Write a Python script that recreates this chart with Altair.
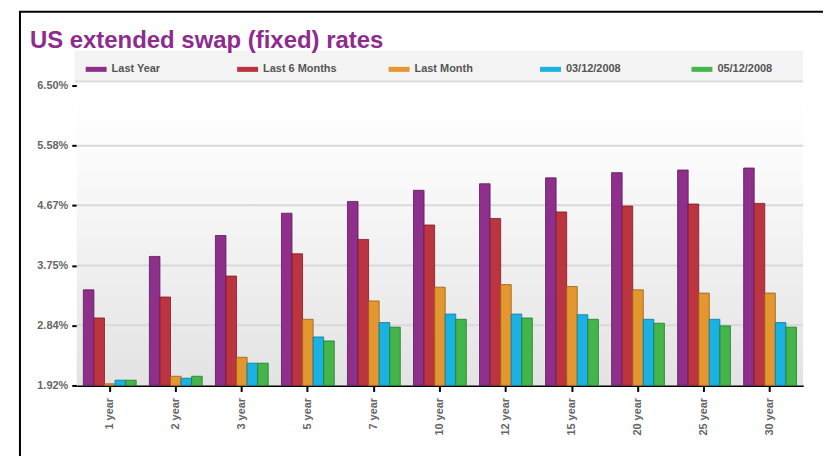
import altair as alt
import pandas as pd

tenors = ["1 year", "2 year", "3 year", "5 year", "7 year", "10 year",
          "12 year", "15 year", "20 year", "25 year", "30 year"]
series = ["Last Year", "Last 6 Months", "Last Month", "03/12/2008", "05/12/2008"]
last_year = [3.38, 3.89, 4.21, 4.55, 4.73, 4.90, 5.00, 5.09, 5.17, 5.21, 5.24]
last_6m = [2.95, 3.27, 3.59, 3.93, 4.15, 4.37, 4.47, 4.57, 4.66, 4.69, 4.70]
last_month = [1.945, 2.06, 2.35, 2.93, 3.21, 3.42, 3.46, 3.43, 3.38, 3.33, 3.33]
d0312 = [2.00, 2.03, 2.26, 2.66, 2.88, 3.01, 3.01, 3.00, 2.93, 2.93, 2.88]
d0512 = [2.00, 2.06, 2.26, 2.60, 2.81, 2.93, 2.95, 2.93, 2.87, 2.83, 2.81]
y_ticks = [1.92, 2.84, 3.75, 4.67, 5.58, 6.50]

colors = ["#8E2F8C", "#BC3440", "#E4962F", "#19B2E2", "#44B54B"]
strokes = ["#5A1A58", "#7A1C24", "#9A6016", "#0C7799", "#257A2A"]

rows = []
for name, vals in zip(series, [last_year, last_6m, last_month, d0312, d0512]):
    for t, v in zip(tenors, vals):
        rows.append({"tenor": t, "series": name, "rate": v})
df = pd.DataFrame(rows)

# tick positions: majors plus 3 minor ticks per interval
tick_vals = []
for i in range(len(y_ticks) - 1):
    a, b = y_ticks[i], y_ticks[i + 1]
    for j in range(4):
        tick_vals.append(round(a + (b - a) * j / 4, 4))
tick_vals.append(y_ticks[-1])
major_str = ",".join("'%.2f'" % v for v in y_ticks)

W, H = 729, 301
FONT = "Liberation Sans"
one = pd.DataFrame({"a": [0]})

yscale = alt.Scale(domain=[y_ticks[0], y_ticks[-1]], nice=False, zero=False)

bg = alt.Chart(one).mark_rect(
    color=alt.Gradient(gradient="linear", x1=0, x2=0, y1=0, y2=1,
                       stops=[alt.GradientStop(color="#ffffff", offset=0),
                              alt.GradientStop(color="#fbfbfb", offset=0.25),
                              alt.GradientStop(color="#e3e3e3", offset=1)])
).encode(x=alt.value(0), x2=alt.value(W), y=alt.value(0), y2=alt.value(H))

band = alt.Chart(one).mark_rect(color="#f3f3f3").encode(
    x=alt.value(-2), x2=alt.value(W), y=alt.value(-35), y2=alt.value(-4))

band_line = alt.Chart(one).mark_rule(
    color="#dcdcdc", strokeWidth=2
).encode(x=alt.value(-2), x2=alt.value(W), y=alt.value(-4))

grid = alt.Chart(pd.DataFrame({"v": y_ticks[1:-1]})).mark_rule(
    color="#d9d9d9", strokeWidth=2
).encode(y=alt.Y("v:Q", scale=yscale))

bars = alt.Chart(df).mark_bar(strokeWidth=1, strokeOpacity=0.8).encode(
    x=alt.X("tenor:N", sort=tenors, title=None,
            scale=alt.Scale(paddingInner=0.2, paddingOuter=0.1),
            axis=alt.Axis(labelAngle=-90, labelAlign="right", labelBaseline="middle",
                          labelFont=FONT, labelFontWeight="bold", labelFontSize=11,
                          labelColor="#666666", labelPadding=6,
                          domainColor="#000000", domainWidth=2,
                          tickColor="#000000", tickWidth=2, tickSize=6)),
    xOffset=alt.XOffset("series:N", sort=series),
    y=alt.Y("rate:Q", scale=yscale, title=None,
            axis=alt.Axis(values=tick_vals, grid=False, domain=False,
                          labelExpr="indexof([" + major_str + "], format(datum.value, '.2f')) >= 0 ? format(datum.value, '.2f') + '%' : ''",
                          labelFont=FONT, labelFontWeight="bold", labelFontSize=11,
                          labelColor="#666666", labelPadding=4,
                          tickColor="#000000", tickWidth=2, tickSize=5)),
    y2=alt.datum(y_ticks[0]),
    color=alt.Color("series:N", sort=series,
                    scale=alt.Scale(domain=series, range=colors),
                    legend=alt.Legend(orient="none", legendX=1, legendY=-35,
                                      direction="horizontal", columns=5,
                                      title=None, padding=8,
                                      symbolType="M-1,-0.24L1,-0.24L1,0.24L-1,0.24Z",
                                      symbolSize=441, symbolStrokeWidth=0,
                                      labelFont=FONT, labelFontWeight="bold",
                                      labelFontSize=11, labelColor="#555555",
                                      labelOffset=5, columnPadding=52,
                                      gridAlign="all")),
    stroke=alt.Stroke("series:N", sort=series,
                      scale=alt.Scale(domain=series, range=strokes), legend=None),
)

frame = alt.Chart(one).mark_rect(
    filled=False, stroke="#000000", strokeWidth=2
).encode(x=alt.value(-57), x2=alt.value(751), y=alt.value(-74), y2=alt.value(440))

chart = alt.layer(bg, band, band_line, grid, bars, frame).properties(
    width=W, height=H,
    autosize=alt.AutoSizeParams(type="none"),
    padding={"left": 69, "top": 77, "right": 20, "bottom": 70},
    title=alt.Title("US extended swap (fixed) rates", anchor="start", frame="group",
                    dx=-47, dy=46,
                    font=FONT, fontSize=24, fontWeight="bold", color="#8E2C8E"),
    background="white",
).configure_view(stroke=None)

chart.save("out.html", embed_options={"renderer": "svg", "actions": False})
